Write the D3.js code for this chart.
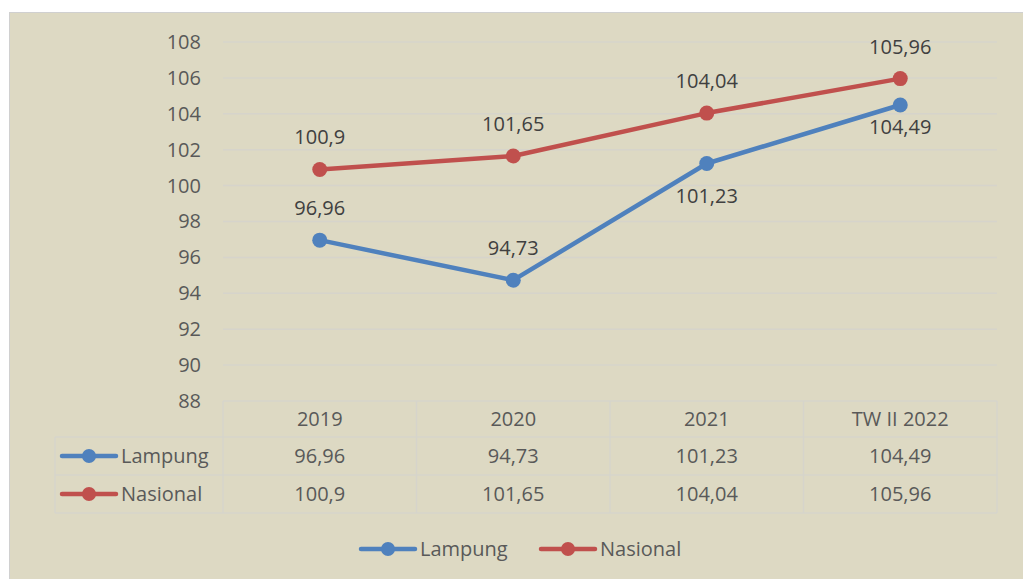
<!DOCTYPE html>
<html>
<head>
<meta charset="utf-8">
<script src="https://cdn.jsdelivr.net/npm/d3@7"></script>
<style>
  body { margin: 0; background: #fff; }
  text { font-family: "Open Sans", sans-serif; }
</style>
</head>
<body>
<svg id="chart" width="1023" height="579"></svg>
<script>
var categories = ['2019', '2020', '2021', 'TW II 2022'];
var lampung = [96.96, 94.73, 101.23, 104.49];
var nasional = [100.9, 101.65, 104.04, 105.96];
var yTicks = [88, 90, 92, 94, 96, 98, 100, 102, 104, 106, 108];
var seriesNames = ['Lampung', 'Nasional'];
var seriesColors = ['#4f81bd', '#c0504d'];
// label offset from each point (negative = above)
var labelOffset = [[-32, -32, 32, 22], [-32, -32, -32, -32]];

function fmt(v) { return String(v).replace('.', ','); }

var svg = d3.select('#chart');
var grid = '#d6d4cb';
var textCol = '#595959';
var fs = 20;

svg.append('rect')
  .attr('x', 9.5).attr('y', 12.5)
  .attr('width', 1030).attr('height', 600)
  .attr('fill', '#ddd9c3')
  .attr('stroke', '#d0d0d0');

var x = d3.scaleBand().domain(categories).range([223, 997]);
var y = d3.scaleLinear().domain([88, 108]).range([401, 42]);

// gridlines
svg.append('g').selectAll('line')
  .data(yTicks.slice(1))
  .enter().append('line')
    .attr('x1', 223).attr('x2', 997)
    .attr('y1', function(d) { return y(d); })
    .attr('y2', function(d) { return y(d); })
    .attr('stroke', grid).attr('stroke-width', 1.5);

// y axis labels
var yAxis = d3.axisLeft(y).tickValues(yTicks).tickSize(0).tickPadding(0)
  .tickFormat(function(d) { return d; });
var ya = svg.append('g').attr('transform', 'translate(201,0)').call(yAxis);
ya.select('.domain').remove();
ya.selectAll('text')
  .attr('font-family', '"Open Sans", sans-serif')
  .attr('font-size', fs).attr('fill', textCol);

// data table
var rowY = [401, 437, 475, 513];
var table = svg.append('g');
var tl = function(x1, y1, x2, y2) {
  table.append('line').attr('x1', x1).attr('y1', y1).attr('x2', x2).attr('y2', y2)
    .attr('stroke', grid).attr('stroke-width', 1.5);
};
tl(223, rowY[0], 997, rowY[0]);
tl(55, rowY[1], 997, rowY[1]);
tl(55, rowY[2], 997, rowY[2]);
tl(55, rowY[3], 997, rowY[3]);
tl(55, rowY[1], 55, rowY[3]);
categories.forEach(function(c) { tl(x(c), rowY[0], x(c), rowY[3]); });
tl(997, rowY[0], 997, rowY[3]);

table.selectAll('text.cat')
  .data(categories)
  .enter().append('text')
    .attr('class', 'cat')
    .attr('x', function(d) { return x(d) + x.bandwidth() / 2; })
    .attr('y', (rowY[0] + rowY[1]) / 2)
    .attr('dy', '0.35em')
    .attr('text-anchor', 'middle')
    .attr('font-size', fs).attr('fill', textCol)
    .text(function(d) { return d; });

[lampung, nasional].forEach(function(vals, si) {
  var cy = (rowY[si + 1] + rowY[si + 2]) / 2;
  table.selectAll('text.v' + si)
    .data(vals)
    .enter().append('text')
      .attr('class', 'v' + si)
      .attr('x', function(d, i) { return x(categories[i]) + x.bandwidth() / 2; })
      .attr('y', cy)
      .attr('dy', '0.35em')
      .attr('text-anchor', 'middle')
      .attr('font-size', fs).attr('fill', textCol)
      .text(fmt);
  legendKey(table, 62, cy, si);
});

function legendKey(root, x0, cy, si) {
  root.append('line')
    .attr('x1', x0).attr('x2', x0 + 54)
    .attr('y1', cy).attr('y2', cy)
    .attr('stroke', seriesColors[si]).attr('stroke-width', 4.5)
    .attr('stroke-linecap', 'round');
  root.append('circle')
    .attr('cx', x0 + 27).attr('cy', cy).attr('r', 7)
    .attr('fill', seriesColors[si]);
  root.append('text')
    .attr('x', x0 + 59).attr('y', cy).attr('dy', '0.35em')
    .attr('font-size', fs).attr('fill', textCol)
    .text(seriesNames[si]);
}

// lines
var line = d3.line()
  .x(function(d, i) { return x(categories[i]) + x.bandwidth() / 2; })
  .y(function(d) { return y(d); });

[lampung, nasional].forEach(function(vals, si) {
  var g = svg.append('g');
  g.append('path')
    .datum(vals)
    .attr('d', line)
    .attr('fill', 'none')
    .attr('stroke', seriesColors[si])
    .attr('stroke-width', 4.5)
    .attr('stroke-linejoin', 'round');
  g.selectAll('circle')
    .data(vals)
    .enter().append('circle')
      .attr('cx', function(d, i) { return x(categories[i]) + x.bandwidth() / 2; })
      .attr('cy', function(d) { return y(d); })
      .attr('r', 7.5)
      .attr('fill', seriesColors[si]);
  g.selectAll('text')
    .data(vals)
    .enter().append('text')
      .attr('x', function(d, i) { return x(categories[i]) + x.bandwidth() / 2; })
      .attr('y', function(d, i) { return y(d) + labelOffset[si][i]; })
      .attr('dy', '0.35em')
      .attr('text-anchor', 'middle')
      .attr('font-size', fs).attr('fill', '#404040')
      .text(fmt);
});

// bottom legend
var lg = svg.append('g');
legendKey(lg, 361, 549, 0);
legendKey(lg, 541, 549, 1);
</script>
</body>
</html>
